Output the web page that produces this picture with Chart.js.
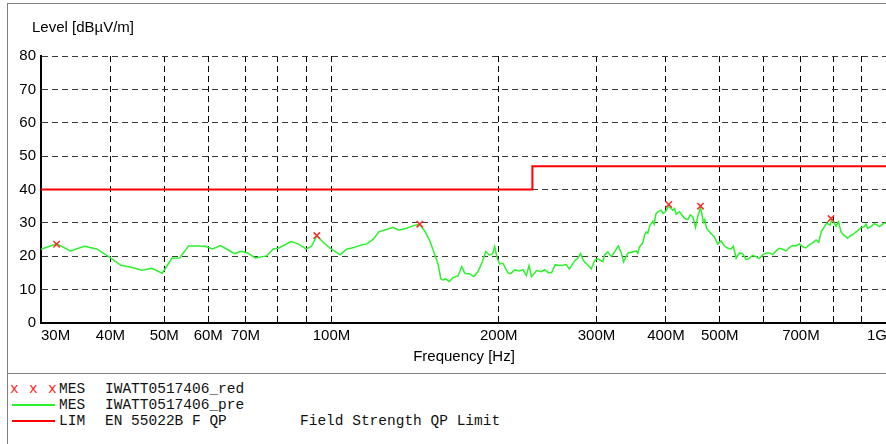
<!DOCTYPE html>
<html>
<head>
<meta charset="utf-8">
<title>Level [dBµV/m] vs Frequency</title>
<script src="https://cdn.jsdelivr.net/npm/chart.js@4.4.1/dist/chart.umd.min.js"></script>
<style>
  html, body { margin: 0; padding: 0; background: #fff; }
  #page { position: relative; width: 886px; height: 444px; overflow: hidden; background: #fff; }
  #frame { position: absolute; left: 7px; top: 3px; width: 940px; height: 480px; border: 1px solid #808080; }
  #sep { position: absolute; left: 7px; top: 373px; width: 940px; height: 1px; background: #808080; }
  #wrap { position: absolute; left: 0; top: 0; width: 900px; height: 372px; }
  .sans { position: absolute; font-family: "Liberation Sans", Arial, sans-serif; font-size: 15px; line-height: 18px; color: #000; white-space: nowrap; }
  .mono { position: absolute; font-family: "Liberation Mono", "Courier New", monospace; font-size: 14.5px; line-height: 16px; color: #111; white-space: pre; }
  .red { color: #ff1a1a; }
  .swatch { position: absolute; left: 12px; width: 43px; height: 2px; }
</style>
</head>
<body>
<div id="page">
  <div id="frame"></div>
  <div id="sep"></div>
  <div id="wrap"><canvas id="chart" width="900" height="372"></canvas></div>
  <div class="sans" style="left:32px; top:18px;">Level [dBµV/m]</div>
  <div class="sans" style="left:464px; top:347px; transform:translateX(-50%);">Frequency [Hz]</div>

  <div class="mono red" style="left:10px; top:381px;">x</div>
  <div class="mono red" style="left:29px; top:381px;">x</div>
  <div class="mono red" style="left:48px; top:381px;">x</div>
  <div class="mono" style="left:59px; top:381px;">MES</div>
  <div class="mono" style="left:105px; top:381px;">IWATT0517406_red</div>

  <div class="swatch" style="top:404px; background:#2cf22c;"></div>
  <div class="mono" style="left:59px; top:397px;">MES</div>
  <div class="mono" style="left:105px; top:397px;">IWATT0517406_pre</div>

  <div class="swatch" style="top:420px; background:#ff0000;"></div>
  <div class="mono" style="left:59px; top:413px;">LIM</div>
  <div class="mono" style="left:105px; top:413px;">EN 55022B F QP</div>
  <div class="mono" style="left:300px; top:413px;">Field Strength QP Limit</div>
</div>
<script>
// Radiated emission scan 30M - 1G: pre-scan trace, final QP peaks and the limit line.

// pre-scan trace (MHz, dBµV/m)
var traceFreq = [
  30.0, 32.0, 33.9, 35.9, 37.8, 39.7, 41.8, 43.6, 45.6, 47.5,
  49.6, 51.6, 53.3, 55.3, 57.2, 59.2, 61.1, 63.1, 64.9, 66.9,
  68.9, 70.8, 72.9, 76.4, 78.6, 80.2, 84.6, 87.1, 90.0, 92.1,
  94.1, 96.6, 100.0, 103.7, 106.4, 109.7, 113.4, 115.8, 118.9, 121.7,
  125.6, 129.1, 132.2, 136.1, 140.1, 144.2, 147.3, 150.3, 152.4, 154.1,
  155.7, 157.3, 158.6, 160.6, 162.9, 165.5, 169.0, 171.6, 173.8, 177.4,
  180.4, 183.6, 187.0, 189.6, 192.3, 194.9, 196.7, 198.5, 200.7, 203.5,
  207.8, 210.1, 213.7, 218.1, 221.1, 224.3, 226.8, 229.2, 234.0, 238.6,
  241.9, 246.2, 249.0, 252.7, 259.2, 264.6, 268.2, 273.9, 277.7, 280.8,
  284.3, 289.4, 293.5, 297.6, 301.2, 303.7, 308.0, 310.2, 314.4, 318.9,
  323.3, 328.4, 332.4, 335.6, 341.6, 348.3, 353.4, 356.0, 358.4, 363.4,
  366.0, 368.6, 371.0, 374.4, 378.8, 381.0, 383.6, 386.7, 392.2, 395.5,
  399.3, 404.7, 411.6, 414.5, 417.4, 423.0, 429.0, 433.5, 438.0, 442.5,
  447.2, 452.2, 456.5, 461.6, 467.4, 470.0, 473.2, 482.0, 488.0, 495.8,
  502.5, 509.9, 517.0, 524.1, 529.0, 535.1, 542.5, 550.0, 557.5, 565.4,
  573.0, 581.4, 589.0, 597.5, 606.0, 614.2, 622.5, 631.6, 640.0, 649.0,
  658.0, 667.2, 676.5, 686.1, 695.4, 705.1, 715.0, 724.8, 735.0, 745.4,
  753.5, 761.9, 778.9, 789.8, 795.8, 809.8, 818.0, 826.7, 835.0, 843.9,
  849.4, 861.5, 870.5, 879.6, 888.5, 897.9, 910.4, 916.5, 922.8, 935.0,
  948.9, 958.5, 968.6, 988.9, 1000
];
var traceLevel = [
  22.1, 23.7, 21.6, 23.0, 22.2, 19.9, 17.3, 16.7, 15.8, 16.4,
  14.9, 19.4, 19.5, 23.1, 23.1, 23.0, 22.2, 23.2, 22.1, 20.8,
  21.5, 20.9, 19.5, 20.1, 22.2, 22.4, 24.4, 23.7, 22.2, 23.0,
  26.2, 24.2, 22.1, 20.4, 22.1, 22.6, 23.4, 23.7, 25.1, 27.3,
  28.0, 28.7, 27.8, 28.3, 29.1, 29.6, 27.5, 24.6, 21.9, 19.6,
  17.4, 13.3, 12.9, 13.2, 12.4, 13.6, 14.1, 16.9, 14.9, 14.7,
  13.9, 15.4, 18.4, 21.4, 20.4, 20.7, 22.9, 19.8, 17.7, 17.9,
  15.0, 14.8, 15.9, 15.6, 16.0, 14.2, 17.2, 13.9, 15.7, 15.4,
  16.0, 15.0, 15.1, 17.4, 17.2, 17.5, 16.2, 18.6, 19.4, 20.8,
  18.6, 17.4, 16.2, 18.7, 19.2, 18.9, 18.4, 20.4, 21.3, 19.9,
  21.3, 23.1, 21.0, 18.3, 20.9, 21.3, 21.6, 20.9, 22.8, 24.0,
  26.3, 27.3, 26.9, 29.3, 30.5, 29.6, 32.6, 33.3, 33.8, 32.8,
  33.4, 34.9, 33.8, 34.3, 32.6, 33.3, 32.0, 31.2, 31.0, 32.4,
  31.8, 28.7, 32.0, 34.6, 30.2, 31.0, 28.4, 26.8, 26.0, 23.7,
  24.6, 23.1, 22.4, 22.2, 23.0, 19.4, 21.0, 20.8, 19.0, 19.4,
  20.3, 19.9, 19.3, 20.4, 21.0, 21.0, 20.5, 21.6, 22.4, 22.1,
  21.6, 22.6, 23.2, 23.1, 23.7, 22.8, 22.5, 23.5, 24.0, 24.9,
  24.2, 27.5, 29.9, 29.3, 31.1, 29.0, 30.3, 27.3, 26.4, 25.8,
  25.4, 26.3, 26.6, 27.3, 27.8, 28.6, 28.8, 29.6, 28.4, 28.9,
  29.8, 29.4, 28.9, 29.9, 30.0
];

// final measurement peaks (x markers)
var peakFreq = [32.0, 94.1, 144.2, 404.7, 461.6, 793.0];
var peakLevel = [23.6, 26.2, 29.6, 35.5, 35.0, 31.3];

// EN 55022B class B QP limit
var limitFreq = [30, 230, 230, 1000];
var limitLevel = [40, 40, 47, 47];

var xTicks = [30, 40, 50, 60, 70, 80, 90, 100, 200, 300, 400, 500, 600, 700, 800, 900, 1000];
var xLabeled = [30, 40, 50, 60, 70, 100, 200, 300, 400, 500, 700, 1000];
var yTicks = [0, 10, 20, 30, 40, 50, 60, 70, 80];

function fmtFreq(v) {
  return v >= 1000 ? (v / 1000) + 'G' : v + 'M';
}

function puntos(xs, ys) {
  return xs.map(function (x, i) { return { x: x, y: ys[i] }; });
}

var fuente = { family: '"Liberation Sans", Arial, sans-serif', size: 15 };

new Chart(document.getElementById('chart').getContext('2d'), {
  type: 'scatter',
  data: {
    datasets: [
      {
        label: 'MES IWATT0517406_red',
        data: puntos(peakFreq, peakLevel),
        showLine: false,
        pointStyle: 'crossRot',
        pointRadius: 4.5,
        pointBorderWidth: 1.5,
        borderColor: '#ff2a2a',
        backgroundColor: '#ff2a2a',
      },
      {
        label: 'LIM EN 55022B F QP',
        data: puntos(limitFreq, limitLevel),
        showLine: true,
        borderColor: '#ff0000',
        borderWidth: 2,
        pointRadius: 0,
      },
      {
        label: 'MES IWATT0517406_pre',
        data: puntos(traceFreq, traceLevel),
        showLine: true,
        borderColor: '#2cf22c',
        borderWidth: 1.5,
        pointRadius: 0,
      },
    ],
  },
  options: {
    responsive: false,
    animation: false,
    layout: { padding: { left: 0, top: 56, right: 13, bottom: 0 } },
    plugins: { legend: { display: false }, tooltip: { enabled: false } },
    scales: {
      x: {
        type: 'logarithmic',
        min: 30,
        max: 1000,
        afterBuildTicks: function (s) { s.ticks = xTicks.map(function (v) { return { value: v }; }); },
        afterFit: function (s) { s.height = 49; },
        grid: { color: '#000', lineWidth: 1, drawTicks: false },
        border: { display: true, color: '#000', width: 2, dash: [6, 4] },
        ticks: {
          autoSkip: false,
          maxRotation: 0,
          align: 'inner',
          padding: 4,
          color: '#000',
          font: fuente,
          callback: function (v) { return xLabeled.indexOf(v) >= 0 ? fmtFreq(v) : ''; },
        },
      },
      y: {
        min: 0,
        max: 80,
        afterBuildTicks: function (s) { s.ticks = yTicks.map(function (v) { return { value: v }; }); },
        afterFit: function (s) { s.width = 41; },
        grid: { color: '#3a3a3a', lineWidth: 1, drawTicks: false },
        border: { display: true, color: '#000', width: 2, dash: [6, 4] },
        ticks: { padding: 5, color: '#000', font: fuente },
      },
    },
  },
});
</script>
</body>
</html>
